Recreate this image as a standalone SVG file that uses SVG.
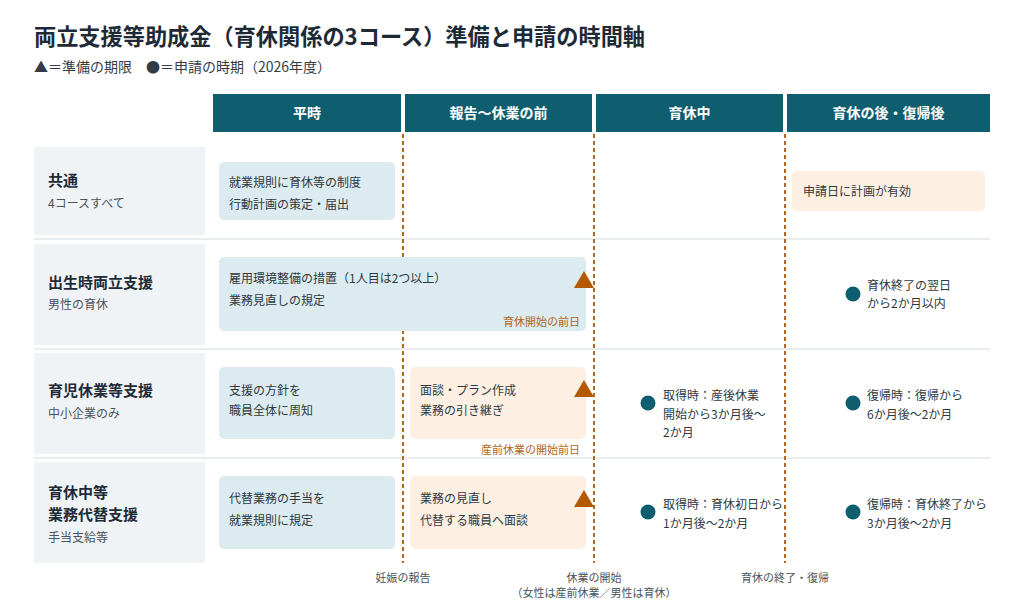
<svg xmlns="http://www.w3.org/2000/svg" width="1024" height="614" viewBox="0 0 1024 614">
<style>
text{font-family:"Noto Sans CJK JP","Noto Sans",sans-serif;}
.title{font-size:22.2px;font-weight:700;fill:#1e2a36;}
.sub{font-size:14px;fill:#333c46;}
.hdr rect{fill:#0f5e70;}
.hdr text{font-size:14px;font-weight:700;fill:#ffffff;text-anchor:middle;}
.lab{fill:#eff3f6;}
.lt{font-size:15px;font-weight:700;fill:#1e2a36;}
.ls{font-size:12px;fill:#4a535c;}
.blue{fill:#dcebf0;}
.orng{fill:#fdf0e2;}
.bt{font-size:12px;fill:#2e3842;}
.ol{font-size:11px;fill:#b0661c;text-anchor:end;}
.sep{stroke:#e3e7eb;stroke-width:1.5;}
.dash{stroke:#b8671a;stroke-width:2;stroke-dasharray:4 3;fill:none;}
.tri{fill:#b35a00;}
.dot{fill:#0f5e70;}
.bl{font-size:11px;fill:#4a535c;text-anchor:middle;}
</style>
<rect width="1024" height="614" fill="#ffffff"/>
<g id="title">
<text class="title" x="34" y="45">両立支援等助成金（育休関係の3コース）準備と申請の時間軸</text>
<text class="sub" x="34" y="72">▲＝準備の期限　●＝申請の時期（2026年度）</text>
</g>
<g id="headers" class="hdr">
<rect x="213" y="94" width="188" height="38"/><text x="307" y="118">平時</text>
<rect x="405" y="94" width="187" height="38"/><text x="498.5" y="118">報告〜休業の前</text>
<rect x="596" y="94" width="187" height="38"/><text x="689.5" y="118">育休中</text>
<rect x="787" y="94" width="203" height="38"/><text x="888.5" y="118">育休の後・復帰後</text>
</g>
<g id="separators">
<line class="sep" x1="34" y1="239" x2="990" y2="239"/>
<line class="sep" x1="34" y1="349" x2="990" y2="349"/>
<line class="sep" x1="34" y1="458" x2="990" y2="458"/>
</g>
<g id="connectors">
<line class="dash" x1="403" y1="134" x2="403" y2="563"/>
<line class="dash" x1="594" y1="134" x2="594" y2="563"/>
<line class="dash" x1="785" y1="134" x2="785" y2="563"/>
</g>
<g id="row-common">
<rect class="lab" x="34" y="147" width="171" height="88"/>
<text class="lt" x="48" y="186">共通</text>
<text class="ls" x="48" y="208">4コースすべて</text>
<rect class="blue" x="219" y="162" width="176" height="58" rx="5"/>
<text class="bt" x="229" y="186.5">就業規則に育休等の制度</text>
<text class="bt" x="229" y="208.5">行動計画の策定・届出</text>
<rect class="orng" x="792" y="171" width="193" height="40" rx="5"/>
<text class="bt" x="803" y="196">申請日に計画が有効</text>
</g>
<g id="row-birth">
<rect class="lab" x="34" y="244" width="171" height="101"/>
<text class="lt" x="48" y="287.5">出生時両立支援</text>
<text class="ls" x="48" y="308.5">男性の育休</text>
<rect class="blue" x="219" y="257" width="367" height="74" rx="5"/>
<text class="bt" x="229" y="282.5">雇用環境整備の措置（1人目は2つ以上）</text>
<text class="bt" x="229" y="304.5">業務見直しの規定</text>
<text class="ol" x="580" y="326">育休開始の前日</text>
<polygon class="tri" points="584,271 574,288 594,288"/>
<circle class="dot" cx="853" cy="294" r="7.5"/>
<text class="bt" x="867" y="289.5">育休終了の翌日</text>
<text class="bt" x="867" y="307.5">から2か月以内</text>
</g>
<g id="row-childcare">
<rect class="lab" x="34" y="353" width="171" height="101"/>
<text class="lt" x="48" y="396">育児休業等支援</text>
<text class="ls" x="48" y="417.5">中小企業のみ</text>
<rect class="blue" x="219" y="367" width="176" height="72" rx="5"/>
<text class="bt" x="229" y="394.5">支援の方針を</text>
<text class="bt" x="229" y="414.5">職員全体に周知</text>
<rect class="orng" x="410" y="367" width="176" height="72" rx="5"/>
<text class="bt" x="420" y="394.5">面談・プラン作成</text>
<text class="bt" x="420" y="414.5">業務の引き継ぎ</text>
<text class="ol" x="580" y="454">産前休業の開始前日</text>
<polygon class="tri" points="584,380 574,397 594,397"/>
<circle class="dot" cx="648" cy="403" r="7.5"/>
<text class="bt" x="663" y="399.5">取得時：産後休業</text>
<text class="bt" x="663" y="418.5">開始から3か月後〜</text>
<text class="bt" x="663" y="437">2か月</text>
<circle class="dot" cx="853" cy="403" r="7.5"/>
<text class="bt" x="867" y="399.5">復帰時：復帰から</text>
<text class="bt" x="867" y="418.5">6か月後〜2か月</text>
</g>
<g id="row-substitute">
<rect class="lab" x="34" y="462" width="171" height="101"/>
<text class="lt" x="48" y="498">育休中等</text>
<text class="lt" x="48" y="519.5">業務代替支援</text>
<text class="ls" x="48" y="541.5">手当支給等</text>
<rect class="blue" x="219" y="476" width="176" height="73" rx="5"/>
<text class="bt" x="229" y="502.5">代替業務の手当を</text>
<text class="bt" x="229" y="524.5">就業規則に規定</text>
<rect class="orng" x="410" y="476" width="176" height="73" rx="5"/>
<text class="bt" x="420" y="502.5">業務の見直し</text>
<text class="bt" x="420" y="524.5">代替する職員へ面談</text>
<polygon class="tri" points="584,490 574,507 594,507"/>
<circle class="dot" cx="648" cy="512" r="7.5"/>
<text class="bt" x="663" y="508.5">取得時：育休初日から</text>
<text class="bt" x="663" y="527.5">1か月後〜2か月</text>
<circle class="dot" cx="853" cy="512" r="7.5"/>
<text class="bt" x="867" y="508.5">復帰時：育休終了から</text>
<text class="bt" x="867" y="527.5">3か月後〜2か月</text>
</g>
<g id="axis-labels">
<text class="bl" x="403" y="582">妊娠の報告</text>
<text class="bl" x="594" y="582">休業の開始</text>
<text class="bl" x="594" y="597">（女性は産前休業／男性は育休）</text>
<text class="bl" x="785" y="582">育休の終了・復帰</text>
</g>
</svg>
